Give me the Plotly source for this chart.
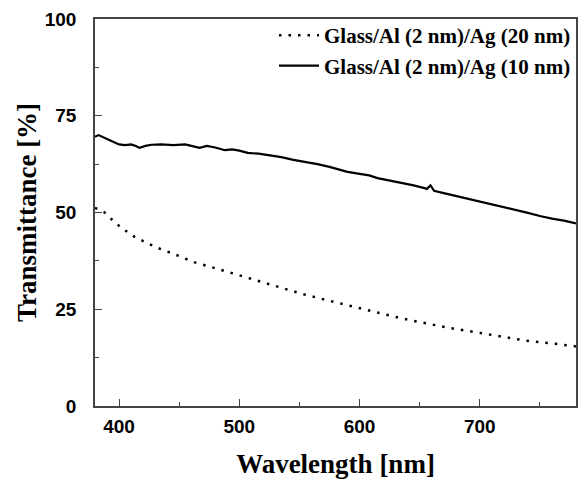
import plotly.graph_objects as go

# Glass/Al (2 nm)/Ag (10 nm) -- solid
wl_10 = [380, 383, 390, 395, 400, 405, 410, 414, 417, 422, 427, 435, 445, 455, 462, 467,
         473, 480, 488, 494, 500, 507, 516, 528, 535, 545, 555, 565, 575, 585, 590, 600,
         608, 615, 625, 635, 645, 654, 656, 659, 662, 670, 680, 690, 700, 710, 720, 730,
         740, 750, 760, 770, 780]
t_10 = [69.6, 70.0, 69.0, 68.2, 67.6, 67.4, 67.6, 67.2, 66.7, 67.2, 67.5, 67.6, 67.4, 67.6, 67.1, 66.7,
        67.2, 66.8, 66.1, 66.3, 66.0, 65.4, 65.2, 64.6, 64.3, 63.6, 63.1, 62.5, 61.8, 61.0, 60.5, 60.0,
        59.6, 58.9, 58.3, 57.6, 57.0, 56.3, 56.1, 57.0, 55.6, 55.0, 54.3, 53.5, 52.8, 52.1, 51.4, 50.6,
        49.9, 49.1, 48.4, 47.9, 47.2]

# Glass/Al (2 nm)/Ag (20 nm) -- dotted
wl_20 = [380, 385, 388, 397, 404, 413, 421, 430, 447, 463, 479, 497, 516, 534, 553, 571,
         590, 608, 630, 645, 660, 676, 694, 716, 738, 762, 780]
t_20 = [51.2, 50.5, 50.0, 47.3, 45.6, 43.7, 42.4, 41.1, 39.1, 37.1, 35.7, 34.0, 32.2, 30.5, 28.9, 27.5,
        26.0, 24.7, 23.0, 22.0, 21.0, 20.1, 19.2, 18.0, 16.9, 16.1, 15.4]

label_20 = "Glass/Al (2 nm)/Ag (20 nm)"
label_10 = "Glass/Al (2 nm)/Ag (10 nm)"
x_ticks = [400, 500, 600, 700]
y_ticks = [0, 25, 50, 75, 100]

fig = go.Figure()
fig.add_trace(go.Scatter(x=wl_20, y=t_20, mode="lines", name=label_20,
                         line=dict(color="black", width=2.5, dash="2.5px,7px")))
fig.add_trace(go.Scatter(x=wl_10, y=t_10, mode="lines", name=label_10,
                         line=dict(color="black", width=2.2)))

axis_common = dict(
    showgrid=False, zeroline=False, showline=True, linecolor="#444", linewidth=1.5,
    mirror=True, ticks="inside", ticklen=7, tickwidth=1.3, tickcolor="#444",
    tickfont=dict(family="Liberation Sans, Arial", size=19, color="black", weight="bold"),
)

fig.update_xaxes(
    range=[380, 780], tickvals=x_ticks, ticklabelstandoff=2,
    minor=dict(dtick=50, tick0=350, ticks="inside", ticklen=4, tickcolor="#444", tickwidth=1.3),
    title=dict(text="Wavelength [nm]", standoff=20,
               font=dict(family="Liberation Serif, Times New Roman", size=27, color="black", weight="bold")),
    **axis_common,
)
fig.update_yaxes(
    range=[0, 100], tickvals=y_ticks, ticklabelstandoff=13,
    minor=dict(dtick=12.5, tick0=0, ticks="inside", ticklen=4, tickcolor="#444", tickwidth=1.3),
    title=dict(text="Transmittance [%]", standoff=0,
               font=dict(family="Liberation Serif, Times New Roman", size=27, color="black", weight="bold")),
    **axis_common,
)

fig.update_layout(
    width=582, height=479,
    margin=dict(l=95, r=4, t=19, b=73),
    paper_bgcolor="white", plot_bgcolor="white",
    showlegend=True,
    legend=dict(x=1, y=1.01, xanchor="right", yanchor="top", bgcolor="rgba(0,0,0,0)",
                font=dict(family="Liberation Serif, Times New Roman", size=21, color="black", weight="bold"),
                tracegroupgap=0, itemwidth=40),
)

fig.write_html("out.html", config={"displayModeBar": False},
               post_script="document.body.style.margin='0';")
